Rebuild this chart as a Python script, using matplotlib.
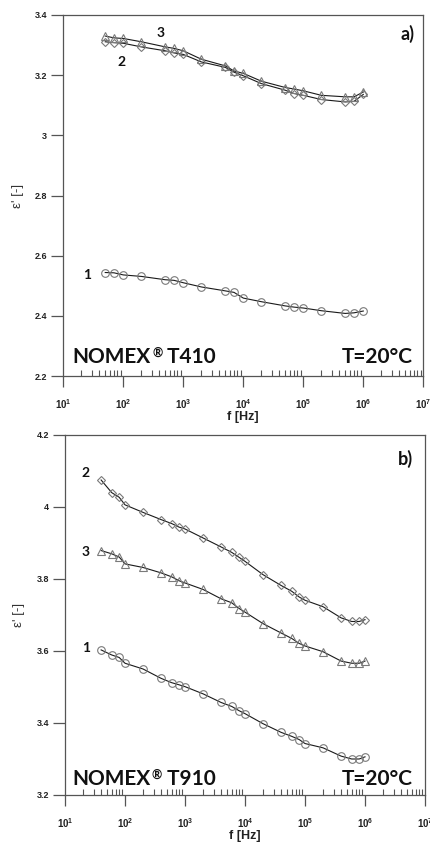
import matplotlib
matplotlib.use("Agg")
import matplotlib.pyplot as plt
from matplotlib.ticker import FixedLocator, FuncFormatter, LogLocator, NullFormatter
import numpy as np

plt.rcParams['font.family'] = ['Liberation Sans', 'DejaVu Sans']
plt.rcParams['mathtext.fontset'] = 'custom'
plt.rcParams['mathtext.rm'] = 'Liberation Sans'
plt.rcParams['mathtext.bf'] = 'Liberation Sans:bold'

# ---- panel a) NOMEX T410 ----
freq_a = [50, 70, 100, 200, 500, 700, 1e3, 2e3, 5e3, 7e3, 1e4, 2e4, 5e4, 7e4, 1e5, 2e5, 5e5, 7e5, 1e6]
a_curve1 = [2.544, 2.543, 2.536, 2.531, 2.520, 2.518, 2.510, 2.496, 2.483, 2.478, 2.459, 2.447,
            2.433, 2.429, 2.426, 2.417, 2.408, 2.410, 2.416]
a_curve2 = [3.311, 3.308, 3.306, 3.294, 3.281, 3.274, 3.269, 3.244, 3.226, 3.210, 3.198, 3.172,
            3.150, 3.139, 3.133, 3.119, 3.111, 3.113, 3.136]
a_curve3 = [3.330, 3.324, 3.322, 3.311, 3.294, 3.289, 3.281, 3.253, 3.231, 3.214, 3.206, 3.180,
            3.159, 3.154, 3.148, 3.133, 3.128, 3.128, 3.144]

# ---- panel b) NOMEX T910 ----
freq_b = [40, 60, 80, 100, 200, 400, 600, 800, 1e3, 2e3, 4e3, 6e3, 8e3, 1e4, 2e4, 4e4, 6e4, 8e4,
          1e5, 2e5, 4e5, 6e5, 8e5, 1e6]
b_curve1 = [3.603, 3.589, 3.582, 3.566, 3.550, 3.524, 3.512, 3.506, 3.501, 3.481, 3.457, 3.446,
            3.434, 3.426, 3.398, 3.374, 3.363, 3.354, 3.343, 3.331, 3.308, 3.300, 3.300, 3.306]
b_curve2 = [4.075, 4.040, 4.027, 4.006, 3.985, 3.965, 3.954, 3.944, 3.939, 3.914, 3.889, 3.874,
            3.860, 3.849, 3.812, 3.782, 3.766, 3.750, 3.741, 3.723, 3.692, 3.682, 3.682, 3.687]
b_curve3 = [3.879, 3.870, 3.861, 3.842, 3.832, 3.817, 3.806, 3.795, 3.789, 3.771, 3.745, 3.734,
            3.718, 3.708, 3.676, 3.650, 3.635, 3.621, 3.614, 3.598, 3.572, 3.566, 3.566, 3.572]

yticks_a = [2.2, 2.4, 2.6, 2.8, 3.0, 3.2, 3.4]
yticklabels_a = ['2.2', '2.4', '2.6', '2.8', '3', '3.2', '3.4']
yticks_b = [3.2, 3.4, 3.6, 3.8, 4.0, 4.2]
yticklabels_b = ['3.2', '3.4', '3.6', '3.8', '4', '4.2']
xticks = [1e1, 1e2, 1e3, 1e4, 1e5, 1e6, 1e7]

W, H = 431, 843
fig = plt.figure(figsize=(W / 100, H / 100), dpi=100)
ax_a = fig.add_axes([63.3 / W, 1 - 376 / H, 360 / W, 361 / H])
ax_b = fig.add_axes([65 / W, 1 - 795 / H, 360 / W, 360 / H])

line_c = '#1a1a1a'
mark_c = '#7a7a7a'
spine_c = '#555555'
TXT = ['Lato', 'DejaVu Sans']


def style(ax, yticks, ylabels, ylim):
    ax.set_xscale('log')
    ax.set_xlim(1e1, 1e7)
    ax.set_ylim(*ylim)
    ax.xaxis.set_major_locator(FixedLocator(xticks))
    ax.xaxis.set_major_formatter(FuncFormatter(lambda v, p: r'$\mathbf{10^{%d}}$' % round(np.log10(v))))
    ax.xaxis.set_minor_locator(LogLocator(base=10, subs=np.arange(2, 10), numticks=20))
    ax.xaxis.set_minor_formatter(NullFormatter())
    ax.set_yticks(yticks)
    ax.set_yticklabels(ylabels)
    for lab in ax.get_yticklabels():
        lab.set_fontweight('bold')
    ax.tick_params(axis='y', which='major', direction='out', length=8.5, width=0.9,
                   colors=spine_c, labelcolor='#222222', labelsize=6.5, pad=3)
    ax.tick_params(axis='x', which='major', direction='out', length=8, width=0.9,
                   colors=spine_c, labelcolor='#222222', labelsize=7, pad=7)
    ax.tick_params(axis='x', which='minor', direction='in', length=4, width=0.8, colors=spine_c)
    for s in ax.spines.values():
        s.set_color(spine_c)
        s.set_linewidth(0.9)
    ax.set_xlabel('f [Hz]', fontsize=9, fontweight='bold', labelpad=0, color='#222222')
    ax.set_ylabel("ε' [-]", fontsize=9.5, labelpad=8, color='#333333')


def series(ax, x, y, marker, ms):
    ax.plot(x, y, color=line_c, lw=0.8, zorder=2)
    ax.plot(x, y, linestyle='none', marker=marker, ms=ms, mfc='none', mec=mark_c, mew=0.8, zorder=3)


def product(ax, x, y, name):
    t1 = ax.text(x, y, 'NOMEX', transform=ax.transAxes, ha='left', va='baseline',
                 family=TXT, fontweight='bold', fontsize=15, color='#111111')
    ax.annotate('®', xy=(1, 1), xycoords=t1, xytext=(0.8, 0), textcoords='offset points',
                ha='left', va='top', family=TXT, fontweight='bold', fontsize=9,
                color='#111111')
    ax.annotate(' ' + name, xy=(1, 0), xycoords=t1, xytext=(8.0, 0), textcoords='offset points',
                ha='left', va='bottom', family=TXT, fontweight='bold', fontsize=15, color='#111111')


num_font = dict(family=TXT, fontweight='bold', fontsize=10, color='#111111',
                ha='center', va='center')
big = dict(family=TXT, fontweight='bold', fontsize=15, color='#111111', va='baseline')

# panel a
series(ax_a, freq_a, a_curve1, 'o', 5.5)
series(ax_a, freq_a, a_curve2, 'D', 4.5)
series(ax_a, freq_a, a_curve3, '^', 5.5)
style(ax_a, yticks_a, yticklabels_a, (2.2, 3.4))

ax_a.text(0.271, 0.950, '3', transform=ax_a.transAxes, **num_font)
ax_a.text(0.163, 0.870, '2', transform=ax_a.transAxes, **num_font)
ax_a.text(0.066, 0.280, '1', transform=ax_a.transAxes, **num_font)
product(ax_a, 0.026, 0.036, 'T410')
ax_a.text(0.972, 0.036, 'T=20°C', transform=ax_a.transAxes, ha='right', **big)
ax_a.text(0.976, 0.931, 'a)', transform=ax_a.transAxes, ha='right', va='baseline',
          family=TXT, fontweight='bold', fontsize=13, color='#111111')

# panel b
series(ax_b, freq_b, b_curve1, 'o', 5.5)
series(ax_b, freq_b, b_curve2, 'D', 4.5)
series(ax_b, freq_b, b_curve3, '^', 5.5)
style(ax_b, yticks_b, yticklabels_b, (3.2, 4.2))

ax_b.text(0.058, 0.894, '2', transform=ax_b.transAxes, **num_font)
ax_b.text(0.056, 0.675, '3', transform=ax_b.transAxes, **num_font)
ax_b.text(0.058, 0.408, '1', transform=ax_b.transAxes, **num_font)
product(ax_b, 0.021, 0.028, 'T910')
ax_b.text(0.967, 0.028, 'T=20°C', transform=ax_b.transAxes, ha='right', **big)
ax_b.text(0.967, 0.917, 'b)', transform=ax_b.transAxes, ha='right', va='baseline',
          family=TXT, fontweight='bold', fontsize=13, color='#111111')

fig.savefig('out.png', dpi=100)
